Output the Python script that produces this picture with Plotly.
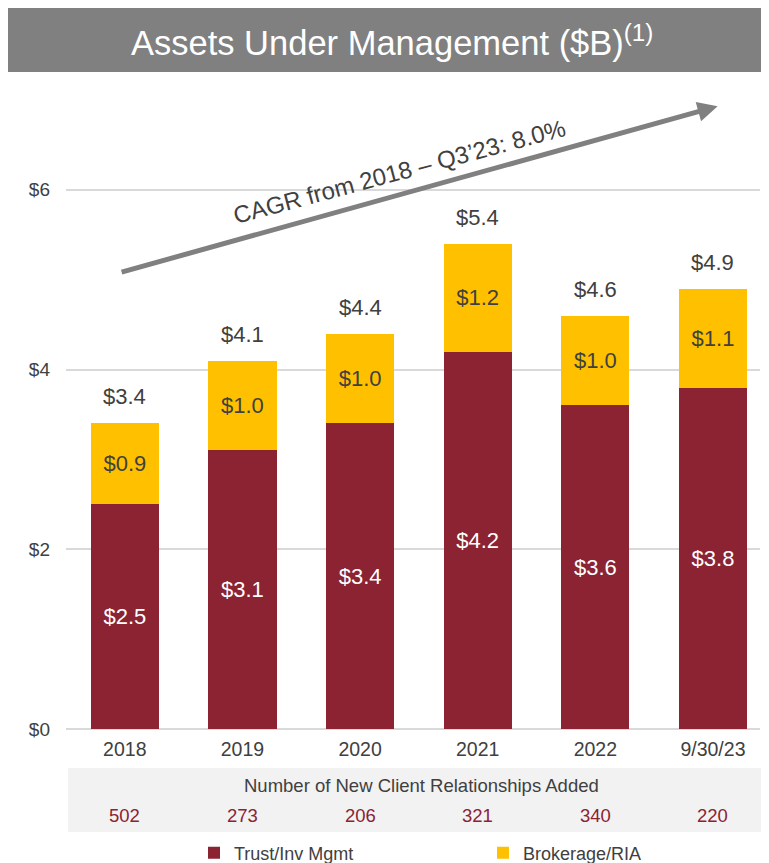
import plotly.graph_objects as go

categories = ["2018", "2019", "2020", "2021", "2022", "9/30/23"]
trust = [2.5, 3.1, 3.4, 4.2, 3.6, 3.8]
brokerage = [0.9, 1.0, 1.0, 1.2, 1.0, 1.1]
totals = [3.4, 4.1, 4.4, 5.4, 4.6, 4.9]
new_clients = [502, 273, 206, 321, 340, 220]
y_ticks = [0, 2, 4, 6]
y_ticklabels = ["$0", "$2", "$4", "$6"]

RED = "#8B2332"
GOLD = "#FFC000"
DARK = "#404040"
FONT = "Liberation Sans, Arial, sans-serif"

x_idx = list(range(len(categories)))

# page-pixel geometry of the plot area (the page adds an 8px body margin)
PL, PT, PW, PH = 66, 73, 694, 656


def py(px):
    return (PT + PH - px) / PH


def pxx(px):
    return (px - PL) / PW


fig = go.Figure()
fig.add_trace(go.Bar(
    x=x_idx, y=trust, name="Trust/Inv Mgmt", marker_color=RED, marker_line_width=0,
    width=0.58, text=[f"${v:.1f}" for v in trust], textposition="inside",
    insidetextanchor="middle", textfont=dict(color="white", size=22, family=FONT),
    textangle=0,
))
fig.add_trace(go.Bar(
    x=x_idx, y=brokerage, name="Brokerage/RIA", marker_color=GOLD, marker_line_width=0,
    width=0.58, text=[f"${v:.1f}" for v in brokerage], textposition="inside",
    insidetextanchor="middle", textfont=dict(color=DARK, size=22, family=FONT),
    textangle=0,
))

annotations = []
for i, t in zip(x_idx, totals):
    annotations.append(dict(x=i, y=t, xref="x", yref="y", text=f"${t:.1f}", showarrow=False,
                            yanchor="bottom", yshift=12,
                            font=dict(size=22, color=DARK, family=FONT)))

# CAGR arrow
annotations.append(dict(x=5.04, y=6.93, ax=-0.04, ay=5.08, xref="x", yref="y",
                        axref="x", ayref="y", text="", showarrow=True,
                        arrowhead=2, arrowsize=0.8, arrowwidth=5, arrowcolor="#808080"))
annotations.append(dict(x=2.335, y=6.2, xref="x", yref="y", text="CAGR from 2018 \u2013 Q3\u201923: 8.0%",
                        showarrow=False, textangle=-15, xanchor="center", yanchor="middle",
                        font=dict(size=24, color=DARK, family=FONT)))

# title banner text
annotations.append(dict(x=pxx(392), y=py(40), xref="paper", yref="paper",
                        text="Assets Under Management ($B)<sup>(1)</sup>", showarrow=False,
                        xanchor="center", yanchor="middle",
                        font=dict(size=34.5, color="white", family=FONT)))

# client relationships band
annotations.append(dict(x=pxx(421), y=py(785), xref="paper", yref="paper",
                        text="Number of New Client Relationships Added", showarrow=False,
                        xanchor="center", yanchor="middle",
                        font=dict(size=18.5, color=DARK, family=FONT)))
for i, n in zip(x_idx, new_clients):
    annotations.append(dict(x=i, y=py(815), xref="x", yref="paper",
                            text=str(n), showarrow=False, yanchor="middle",
                            font=dict(size=18.5, color=RED, family=FONT)))

shapes = [
    dict(type="rect", xref="paper", yref="paper", x0=pxx(8), x1=pxx(770),
         y0=py(72), y1=py(8), fillcolor="#808080", line_width=0, layer="below"),
    dict(type="rect", xref="paper", yref="paper", x0=pxx(68), x1=pxx(770),
         y0=py(832), y1=py(768), fillcolor="#F2F2F2", line_width=0, layer="below"),
]

fig.update_layout(
    width=761, height=855,
    margin=dict(l=PL - 8, r=761 - (PL - 8) - PW, t=PT - 8, b=855 - (PT - 8) - PH, autoexpand=False),
    barmode="stack",
    plot_bgcolor="white", paper_bgcolor="white",
    font=dict(family=FONT, color=DARK),
    showlegend=True,
    legend=dict(orientation="h", x=pxx(194), xanchor="left",
                y=py(853), yanchor="middle", traceorder="normal",
                entrywidth=244, entrywidthmode="pixels",
                font=dict(size=18, color=DARK, family=FONT),
                bgcolor="rgba(0,0,0,0)"),
    xaxis=dict(range=[-0.5, 5.4], tickvals=x_idx, ticktext=categories,
               showgrid=False, showline=False, zeroline=False,
               ticks="", ticklabelstandoff=6,
               tickfont=dict(size=19.5, color=DARK, family=FONT)),
    yaxis=dict(range=[0, 7.3], tickvals=y_ticks, ticktext=y_ticklabels,
               showgrid=True, gridcolor="#D9D9D9", gridwidth=1.5,
               zeroline=True, zerolinecolor="#D9D9D9", zerolinewidth=1.5,
               ticks="", ticklabelstandoff=15,
               tickfont=dict(size=19, color=DARK, family=FONT)),
    annotations=annotations,
    shapes=shapes,
)

fig.write_html("out.html")
